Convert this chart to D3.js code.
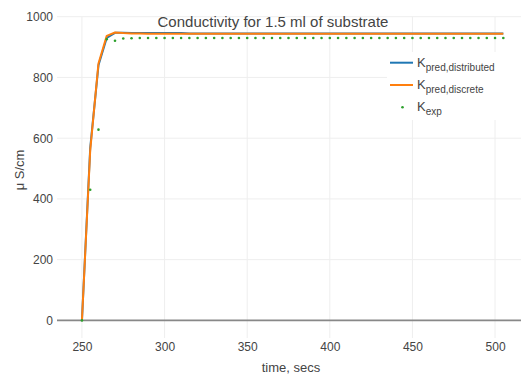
<!DOCTYPE html>
<html>
<head>
<meta charset="utf-8">
<script src="https://cdn.jsdelivr.net/npm/d3@7"></script>
<style>
    body { margin: 0; background: #fff; }
    svg { display: block; font-family: "Liberation Sans", Arial, sans-serif; }
</style>
</head>
<body>
<div id="chart"></div>
<script>
// data
const timeSecs = [250, 255, 260, 265, 270, 275, 280, 285, 290, 295, 300, 305, 310, 315, 320, 325, 330, 335, 340, 345,
    350, 355, 360, 365, 370, 375, 380, 385, 390, 395, 400, 405, 410, 415, 420, 425, 430, 435, 440, 445,
    450, 455, 460, 465, 470, 475, 480, 485, 490, 495, 500, 505];
const kPredDistributed = [0, 568, 840, 930, 947, 947, 946, 946, 946, 946, 946, 946, 946, 945, 945, 945, 945, 945, 945, 945,
    945, 945, 945, 945, 945, 945, 945, 945, 945, 945, 945, 945, 945, 945, 945, 945, 945, 945, 945, 945,
    945, 945, 945, 945, 945, 945, 945, 945, 945, 945, 945, 945];
const kPredDiscrete = [0, 560, 846, 937, 948, 946, 945, 945, 944, 944, 944, 944, 944, 944, 944, 944, 944, 944, 944, 944,
    944, 944, 944, 944, 944, 944, 944, 944, 944, 944, 944, 944, 944, 944, 944, 944, 944, 944, 944, 944,
    944, 944, 944, 944, 944, 944, 944, 944, 944, 944, 944, 944];
const kExp = [0, 430, 628, 926, 921, 928, 929, 930, 930, 930, 930, 930, 930, 930, 930, 930, 930, 930, 930, 930,
    930, 930, 930, 930, 930, 930, 930, 930, 930, 930, 930, 930, 930, 930, 930, 930, 930, 930, 930, 930,
    930, 930, 930, 930, 930, 930, 930, 930, 930, 930, 930, 930];
const xTicks = [250, 300, 350, 400, 450, 500];
const yTicks = [0, 200, 400, 600, 800, 1000];
const seriesNames = ["pred,distributed", "pred,discrete", "exp"];
const seriesColors = ["#1f77b4", "#ff7f0e", "#2ca02c"];

const W = 521, H = 374;
const plot = {left: 57, right: 521, top: 16.7, bottom: 338};
const textColor = "#444";

var svg = d3.select("#chart").append("svg")
    .attr("width", W)
    .attr("height", H);

var x = d3.scaleLinear().domain([234.9, 515.7]).range([plot.left, plot.right]);
var y = d3.scaleLinear().domain([-58, 1000]).range([plot.bottom, plot.top]);

// grid
svg.append("g").selectAll("line")
    .data(xTicks)
    .enter().append("line")
    .attr("x1", d => x(d)).attr("x2", d => x(d))
    .attr("y1", plot.top).attr("y2", plot.bottom)
    .style("stroke", "#eee");

svg.append("g").selectAll("line")
    .data(yTicks.filter(d => d !== 0))
    .enter().append("line")
    .attr("x1", plot.left).attr("x2", plot.right)
    .attr("y1", d => y(d)).attr("y2", d => y(d))
    .style("stroke", "#eee");

// zero line
svg.append("line")
    .attr("x1", plot.left).attr("x2", plot.right)
    .attr("y1", y(0)).attr("y2", y(0))
    .style("stroke", "#888")
    .style("stroke-width", 1.6);

// tick labels
var xAxis = d3.axisBottom(x).tickValues(xTicks).tickSize(0).tickPadding(0).tickFormat(d3.format("d"));
var gx = svg.append("g")
    .attr("transform", `translate(0, ${plot.bottom + 4})`)
    .call(xAxis);
gx.select(".domain").remove();
gx.selectAll("text")
    .style("font-family", "Liberation Sans, Arial, sans-serif")
    .style("font-size", "12px")
    .style("fill", textColor);

var yAxis = d3.axisLeft(y).tickValues(yTicks).tickSize(0).tickPadding(4).tickFormat(d3.format("d"));
var gy = svg.append("g")
    .attr("transform", `translate(${plot.left}, 0)`)
    .call(yAxis);
gy.select(".domain").remove();
gy.selectAll("text")
    .style("font-family", "Liberation Sans, Arial, sans-serif")
    .style("font-size", "12px")
    .style("fill", textColor);

// lines
var line = d3.line()
    .x((d, i) => x(timeSecs[i]))
    .y(d => y(d));

[kPredDistributed, kPredDiscrete].forEach(function(series, k) {
    svg.append("path")
        .datum(series)
        .attr("d", line)
        .style("fill", "none")
        .style("stroke", seriesColors[k])
        .style("stroke-width", 2)
        .style("stroke-linejoin", "round");
});

svg.append("g").selectAll("circle")
    .data(kExp)
    .enter().append("circle")
    .attr("cx", (d, i) => x(timeSecs[i]))
    .attr("cy", d => y(d))
    .attr("r", 1.3)
    .style("fill", seriesColors[2]);

// title and axis titles
svg.append("text")
    .attr("x", 273)
    .attr("y", 27)
    .attr("text-anchor", "middle")
    .style("font-size", "15px")
    .style("fill", textColor)
    .text("Conductivity for 1.5 ml of substrate");

svg.append("text")
    .attr("x", 291)
    .attr("y", 372)
    .attr("text-anchor", "middle")
    .style("font-size", "13px")
    .style("fill", textColor)
    .text("time, secs");

svg.append("text")
    .attr("transform", "translate(24, 170) rotate(-90)")
    .attr("text-anchor", "middle")
    .style("font-size", "13px")
    .style("fill", textColor)
    .text("μ S/cm");

// legend
var legend = svg.append("g").attr("transform", "translate(387, 52)");
legend.append("rect")
    .attr("width", 134)
    .attr("height", 68)
    .style("fill", "#fff");

seriesNames.forEach(function(name, i) {
    var cy = 10.7 + i * 22.3;
    if (i < 2) {
        legend.append("line")
            .attr("x1", 3).attr("x2", 26)
            .attr("y1", cy).attr("y2", cy)
            .style("stroke", seriesColors[i])
            .style("stroke-width", 2);
    } else {
        legend.append("circle")
            .attr("cx", 15.5).attr("cy", cy)
            .attr("r", 1.3)
            .style("fill", seriesColors[i]);
    }
    var t = legend.append("text")
        .attr("x", 30)
        .attr("y", cy + 4)
        .style("font-size", "13px")
        .style("fill", textColor);
    t.append("tspan").text("K");
    t.append("tspan")
        .attr("dy", 4)
        .style("font-size", "10px")
        .text(name);
});
</script>
</body>
</html>
